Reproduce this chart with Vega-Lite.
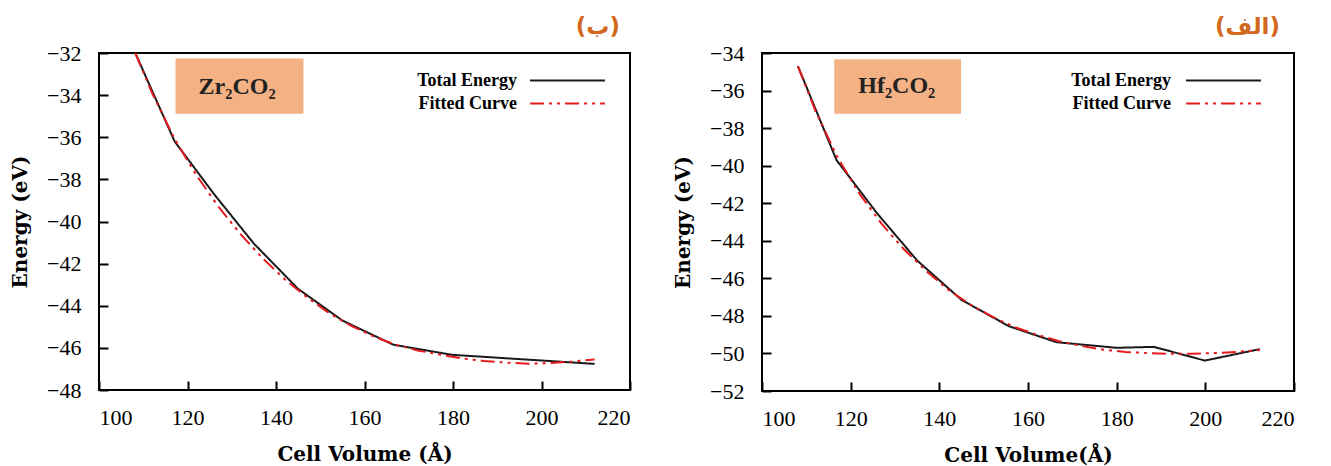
{
  "$schema": "https://vega.github.io/schema/vega-lite/v6.json",
  "background": "white",
  "padding": {"left": 9, "top": 15, "right": 5, "bottom": 0},
  "spacing": 132,
  "bounds": "flush",
  "config": {
    "font": "Liberation Serif",
    "view": {"stroke": "black", "strokeWidth": 2},
    "axis": {
      "grid": false,
      "domain": false,
      "offset": -9,
      "ticks": true,
      "labelFont": "Liberation Serif",
      "labelFontSize": 22,
      "labelColor": "black",
      "labelOverlap": false,
      "labelSeparation": -20,
      "labelBound": false,
      "titleFont": "DejaVu Serif",
      "titleFontWeight": "bold",
      "titleFontSize": 20,
      "titleColor": "black",
      "tickColor": "black",
      "tickOpacity": 1,
      "tickSize": 9,
      "tickWidth": 2,
      "zindex": 2
    },
    "axisY": {"labelPadding": 18, "titlePadding": 16},
    "axisX": {"labelPadding": 17, "titlePadding": 16},
    "legend": {
      "orient": "none",
      "title": null,
      "symbolType": "M-4,0H4",
      "symbolSize": 350,
      "symbolStrokeWidth": 2,
      "rowPadding": 3,
      "labelAlign": "right",
      "labelFont": "Liberation Serif",
      "labelFontSize": 18,
      "labelFontWeight": "bold",
      "labelColor": "black"
    },
    "title": {"anchor": "end", "color": "#d2691e", "font": "DejaVu Sans", "fontSize": 23, "fontWeight": "bold", "offset": 3}
  },
  "resolve": {
    "scale": {"color": "independent", "strokeDash": "independent"},
    "legend": {"color": "independent", "strokeDash": "independent"}
  },
  "hconcat": [
    {
      "width": 531,
      "height": 337,
      "title": {"text": "(ب)", "dx": -11},
      "layer": [
        {
          "data": {"values": [
            {"v": 108.2, "e": -32.0, "series": "Total Energy"},
            {"v": 117.1, "e": -36.2, "series": "Total Energy"},
            {"v": 126, "e": -38.7, "series": "Total Energy"},
            {"v": 135, "e": -41.05, "series": "Total Energy"},
            {"v": 145, "e": -43.2, "series": "Total Energy"},
            {"v": 155, "e": -44.7, "series": "Total Energy"},
            {"v": 166.5, "e": -45.85, "series": "Total Energy"},
            {"v": 179.8, "e": -46.33, "series": "Total Energy"},
            {"v": 212, "e": -46.76, "series": "Total Energy"},
            {"v": 108.2, "e": -32.0, "series": "Fitted Curve"},
            {"v": 112, "e": -33.9, "series": "Fitted Curve"},
            {"v": 117, "e": -36.05, "series": "Fitted Curve"},
            {"v": 122, "e": -37.8, "series": "Fitted Curve"},
            {"v": 127, "e": -39.3, "series": "Fitted Curve"},
            {"v": 132, "e": -40.6, "series": "Fitted Curve"},
            {"v": 137, "e": -41.75, "series": "Fitted Curve"},
            {"v": 142, "e": -42.75, "series": "Fitted Curve"},
            {"v": 147, "e": -43.6, "series": "Fitted Curve"},
            {"v": 152, "e": -44.35, "series": "Fitted Curve"},
            {"v": 157, "e": -44.95, "series": "Fitted Curve"},
            {"v": 162, "e": -45.45, "series": "Fitted Curve"},
            {"v": 167, "e": -45.85, "series": "Fitted Curve"},
            {"v": 172, "e": -46.12, "series": "Fitted Curve"},
            {"v": 177, "e": -46.32, "series": "Fitted Curve"},
            {"v": 182, "e": -46.5, "series": "Fitted Curve"},
            {"v": 187, "e": -46.62, "series": "Fitted Curve"},
            {"v": 192, "e": -46.7, "series": "Fitted Curve"},
            {"v": 197, "e": -46.75, "series": "Fitted Curve"},
            {"v": 202, "e": -46.72, "series": "Fitted Curve"},
            {"v": 207, "e": -46.65, "series": "Fitted Curve"},
            {"v": 212, "e": -46.55, "series": "Fitted Curve"}
          ]},
          "mark": {"type": "line", "strokeWidth": 2, "clip": true},
          "encoding": {
            "x": {"field": "v", "type": "quantitative", "scale": {"domain": [100, 220], "nice": false},
                  "axis": {"values": [100, 120, 140, 160, 180, 200, 220], "title": "Cell Volume (Å)", "labelOverlap": false}},
            "y": {"field": "e", "type": "quantitative", "scale": {"domain": [-48, -32], "nice": false},
                  "axis": {"values": [-48, -46, -44, -42, -40, -38, -36, -34, -32], "title": "Energy (eV)", "labelOverlap": false}},
            "color": {"field": "series", "type": "nominal",
                      "scale": {"domain": ["Total Energy", "Fitted Curve"], "range": ["#1a1a1a", "#e41a1c"]},
                      "legend": {"legendX": 458, "legendY": 17, "labelOffset": -61}},
            "strokeDash": {"field": "series", "type": "nominal",
                           "scale": {"domain": ["Total Energy", "Fitted Curve"], "range": [[1, 0], [14, 5, 3, 5, 3, 5]]},
                           "legend": {"legendX": 458, "legendY": 17, "labelOffset": -61}}
          }
        },
        {
          "data": {"values": [{"label": "Zr₂CO₂"}]},
          "mark": {"type": "rect", "color": "#f4b183"},
          "encoding": {
            "x": {"datum": 117.3, "type": "quantitative"},
            "x2": {"datum": 146.2},
            "y": {"datum": -32.26, "type": "quantitative"},
            "y2": {"datum": -34.88}
          }
        },
        {
          "data": {"values": [{"label": "Zr₂CO₂"}]},
          "mark": {"type": "text", "font": "Liberation Serif", "fontSize": 24, "fontWeight": "bold", "color": "#222222"},
          "encoding": {
            "x": {"datum": 131.2, "type": "quantitative"},
            "y": {"datum": -33.6, "type": "quantitative"},
            "text": {"field": "label"}
          }
        }
      ]
    },
    {
      "width": 532,
      "height": 338,
      "title": {"text": "(الف)", "dx": -15},
      "layer": [
        {
          "data": {"values": [
            {"v": 108.1, "e": -34.7, "series": "Total Energy"},
            {"v": 116.8, "e": -39.7, "series": "Total Energy"},
            {"v": 126, "e": -42.55, "series": "Total Energy"},
            {"v": 135, "e": -45.05, "series": "Total Energy"},
            {"v": 145, "e": -47.15, "series": "Total Energy"},
            {"v": 155.7, "e": -48.55, "series": "Total Energy"},
            {"v": 166.4, "e": -49.4, "series": "Total Energy"},
            {"v": 180, "e": -49.7, "series": "Total Energy"},
            {"v": 188.4, "e": -49.65, "series": "Total Energy"},
            {"v": 199.9, "e": -50.38, "series": "Total Energy"},
            {"v": 212.3, "e": -49.77, "series": "Total Energy"},
            {"v": 108.1, "e": -34.7, "series": "Fitted Curve"},
            {"v": 112, "e": -37.05, "series": "Fitted Curve"},
            {"v": 117, "e": -39.55, "series": "Fitted Curve"},
            {"v": 122, "e": -41.5, "series": "Fitted Curve"},
            {"v": 127, "e": -43.1, "series": "Fitted Curve"},
            {"v": 132, "e": -44.45, "series": "Fitted Curve"},
            {"v": 137, "e": -45.6, "series": "Fitted Curve"},
            {"v": 142, "e": -46.6, "series": "Fitted Curve"},
            {"v": 147, "e": -47.4, "series": "Fitted Curve"},
            {"v": 152, "e": -48.05, "series": "Fitted Curve"},
            {"v": 157, "e": -48.6, "series": "Fitted Curve"},
            {"v": 162, "e": -49.0, "series": "Fitted Curve"},
            {"v": 167, "e": -49.35, "series": "Fitted Curve"},
            {"v": 172, "e": -49.6, "series": "Fitted Curve"},
            {"v": 177, "e": -49.8, "series": "Fitted Curve"},
            {"v": 182, "e": -49.92, "series": "Fitted Curve"},
            {"v": 187, "e": -49.98, "series": "Fitted Curve"},
            {"v": 192, "e": -50.02, "series": "Fitted Curve"},
            {"v": 197, "e": -50.02, "series": "Fitted Curve"},
            {"v": 202, "e": -49.98, "series": "Fitted Curve"},
            {"v": 207, "e": -49.92, "series": "Fitted Curve"},
            {"v": 212.3, "e": -49.82, "series": "Fitted Curve"}
          ]},
          "mark": {"type": "line", "strokeWidth": 2, "clip": true},
          "encoding": {
            "x": {"field": "v", "type": "quantitative", "scale": {"domain": [100, 220], "nice": false},
                  "axis": {"values": [100, 120, 140, 160, 180, 200, 220], "title": "Cell Volume(Å)", "labelOverlap": false}},
            "y": {"field": "e", "type": "quantitative", "scale": {"domain": [-52, -34], "nice": false},
                  "axis": {"values": [-52, -50, -48, -46, -44, -42, -40, -38, -36, -34], "tickCount": 10, "title": "Energy (eV)", "labelOverlap": false}},
            "color": {"field": "series", "type": "nominal",
                      "scale": {"domain": ["Total Energy", "Fitted Curve"], "range": ["#1a1a1a", "#e41a1c"]},
                      "legend": {"legendX": 451, "legendY": 17, "labelOffset": -63}},
            "strokeDash": {"field": "series", "type": "nominal",
                           "scale": {"domain": ["Total Energy", "Fitted Curve"], "range": [[1, 0], [14, 5, 3, 5, 3, 5]]},
                           "legend": {"legendX": 451, "legendY": 17, "labelOffset": -63}}
          }
        },
        {
          "data": {"values": [{"label": "Hf₂CO₂"}]},
          "mark": {"type": "rect", "color": "#f4b183"},
          "encoding": {
            "x": {"datum": 116.3, "type": "quantitative"},
            "x2": {"datum": 144.9},
            "y": {"datum": -34.33, "type": "quantitative"},
            "y2": {"datum": -37.24}
          }
        },
        {
          "data": {"values": [{"label": "Hf₂CO₂"}]},
          "mark": {"type": "text", "font": "Liberation Serif", "fontSize": 24, "fontWeight": "bold", "color": "#222222"},
          "encoding": {
            "x": {"datum": 130.4, "type": "quantitative"},
            "y": {"datum": -35.75, "type": "quantitative"},
            "text": {"field": "label"}
          }
        }
      ]
    }
  ]
}
